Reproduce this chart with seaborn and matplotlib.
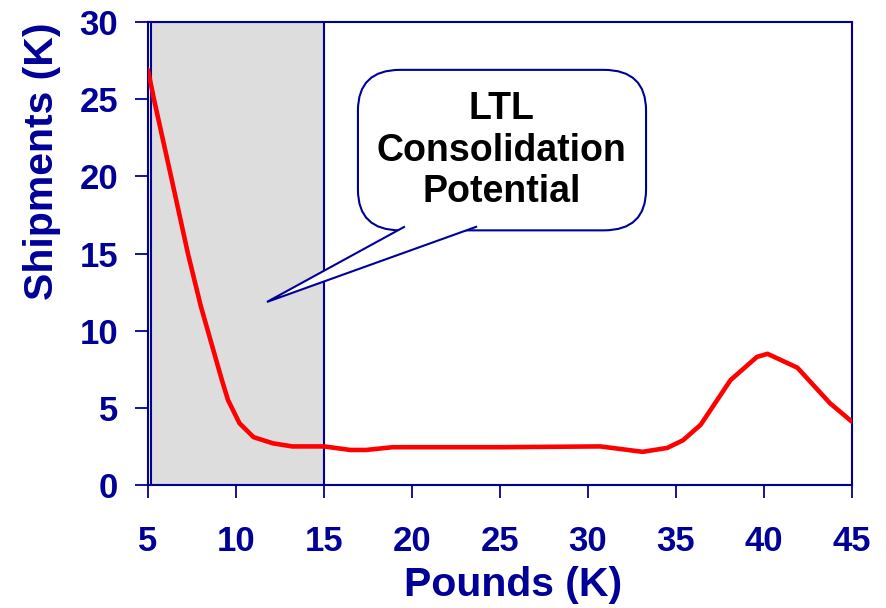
import matplotlib
matplotlib.use("Agg")
import matplotlib.pyplot as plt
import seaborn as sns
import pandas as pd
from matplotlib.patches import FancyBboxPatch, Polygon

# values
pounds_k = [5, 5.34, 6.31, 7.27, 8.0, 8.5, 8.9, 9.2, 9.55, 10.2, 11, 12.1, 13.2, 15,
            16.5, 17.4, 18.9, 25, 30.7, 33.1, 34.5, 35.4, 36.4, 38.1, 39.6, 40.2,
            41.9, 43.75, 45]
shipments_k = [26.9, 25, 20, 15, 11.6, 9.6, 8.0, 6.8, 5.5, 4.0, 3.1, 2.7, 2.5, 2.5,
               2.27, 2.27, 2.45, 2.45, 2.5, 2.15, 2.4, 2.9, 3.9, 6.8, 8.3, 8.5,
               7.6, 5.3, 4.1]
x_ticks = [5, 10, 15, 20, 25, 30, 35, 40, 45]
y_ticks = [0, 5, 10, 15, 20, 25, 30]
ltl_zone = (5.15, 15)
callout_text = "LTL\nConsolidation\nPotential"

navy = "#000099"

sns.set_style("white")
plt.rcParams["font.family"] = ["Liberation Sans", "DejaVu Sans"]
plt.rcParams["font.weight"] = "bold"

df = pd.DataFrame({"pounds": pounds_k, "shipments": shipments_k})

fig = plt.figure(figsize=(8.86, 6.08), dpi=100)
ax = fig.add_axes([0.167, 0.2023, 0.7946, 0.7615])

# gray shaded LTL zone
ax.axvspan(ltl_zone[0], ltl_zone[1], facecolor="#DDDDDD", edgecolor=navy, linewidth=1.5, zorder=1)

sns.lineplot(data=df, x="pounds", y="shipments", color="red", linewidth=3.3, ax=ax,
             zorder=3, sort=False)
ax.lines[-1].set_solid_joinstyle("round")
ax.lines[-1].set_solid_capstyle("round")

# callout bubble
box = FancyBboxPatch((16.93, 16.5), 33.3 - 16.93, 26.9 - 16.5,
                     boxstyle="round,pad=0,rounding_size=2.4", mutation_aspect=1.1,
                     facecolor="white", edgecolor=navy, linewidth=1.5, zorder=4)
ax.add_patch(box)
pointer = Polygon([(19.6, 16.75), (11.76, 11.86), (23.7, 16.75)], closed=False,
                  facecolor="white", edgecolor=navy, linewidth=1.5, zorder=5)
ax.add_patch(pointer)
ax.text(25.1, 21.65, callout_text, ha="center", va="center", multialignment="center",
        fontsize=27, fontweight="bold", color="black", linespacing=1.2, zorder=6)

ax.set_xlim(5, 45)
ax.set_ylim(0, 30)
ax.set_xticks(x_ticks)
ax.set_yticks(y_ticks)
ax.set_xlabel("Pounds (K)", fontsize=29.5, fontweight="bold", color=navy)
ax.set_ylabel("Shipments (K)", fontsize=29.5, fontweight="bold", color=navy)
ax.xaxis.set_label_coords(0.519, -0.174)
ax.yaxis.set_label_coords(-0.123, 0.70)

ax.tick_params(axis="both", which="major", direction="out", length=9.5, width=1.3,
               color=navy, labelcolor=navy, labelsize=25, bottom=True, left=True)
ax.tick_params(axis="x", pad=19)
ax.tick_params(axis="y", pad=12)
for lab in ax.get_xticklabels() + ax.get_yticklabels():
    lab.set_fontweight("bold")

for side in ["left", "right", "top", "bottom"]:
    ax.spines[side].set_color(navy)
    ax.spines[side].set_linewidth(1.5)
    ax.spines[side].set_visible(True)

fig.savefig("out.png", dpi=100)
